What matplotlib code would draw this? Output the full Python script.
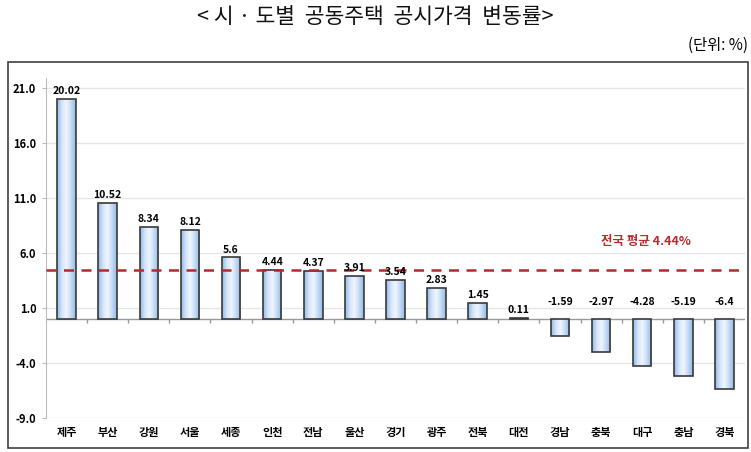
import numpy as np
import matplotlib.pyplot as plt
from matplotlib.patches import Rectangle
from matplotlib.colors import LinearSegmentedColormap

plt.rcParams['font.family'] = ['Noto Sans CJK KR', 'DejaVu Sans']

regions = ['제주', '부산', '강원', '서울', '세종', '인천', '전남', '울산', '경기',
           '광주', '전북', '대전', '경남', '충북', '대구', '충남', '경북']
changes = [20.02, 10.52, 8.34, 8.12, 5.6, 4.44, 4.37, 3.91, 3.54,
           2.83, 1.45, 0.11, -1.59, -2.97, -4.28, -5.19, -6.4]
labels = ['20.02', '10.52', '8.34', '8.12', '5.6', '4.44', '4.37', '3.91', '3.54',
          '2.83', '1.45', '0.11', '-1.59', '-2.97', '-4.28', '-5.19', '-6.4']
national_avg = 4.44
yticks = [21.0, 16.0, 11.0, 6.0, 1.0, -4.0, -9.0]

px = 1 / 100
fig = plt.figure(figsize=(751 * px, 452 * px), dpi=100)
ax = fig.add_axes([46 / 751, 34 / 452, 699 / 751, 340 / 452])

# outer frame of the chart
fig.patches.append(Rectangle((8 / 751, 4 / 452), 740 / 751, 386 / 452,
                             transform=fig.transFigure, fill=False,
                             edgecolor='#404040', lw=1.2))

x = np.arange(len(regions))
bars = ax.bar(x, changes, width=0.45, color='none', edgecolor='#3a3a3a', lw=1.2, zorder=3)

# gradient fill for each bar
cmap = LinearSegmentedColormap.from_list('bl', ['#94b9e6', '#d2e4f8', '#f0f6fd', '#c2daf4', '#94b9e6'])
grad = np.tile(np.linspace(0, 1, 64), (64, 1))
for b in bars:
    x0, y0 = b.get_x(), b.get_y()
    w, h = b.get_width(), b.get_height()
    im = ax.imshow(grad, cmap=cmap, aspect='auto', zorder=2,
                   extent=[x0, x0 + w, min(y0, y0 + h), max(y0, y0 + h)])
    im.set_clip_path(b)

# value labels
for i, v in enumerate(changes):
    if v >= 0:
        ax.annotate(labels[i], (i, v), xytext=(0, 2), textcoords='offset points',
                    ha='center', va='bottom', fontsize=7.5, fontweight='bold', zorder=5)
    else:
        ax.text(i, 1.5, labels[i], ha='center', va='center', fontsize=7.5,
                fontweight='bold', zorder=5)

ax.axhline(national_avg, color='#b22a2a', ls=(0, (4, 3)), lw=1.8, zorder=4)
ax.text(14.1, 7.0, '전국 평균 4.44%', color='#c0282d', fontsize=9,
        fontweight='bold', ha='center', va='center')

# zero line with small category ticks
ax.axhline(0, color='#999999', lw=1, zorder=1)
ax.vlines(x[:-1] + 0.5, -0.35, 0, color='#999999', lw=1, zorder=1)

ax.set_xlim(-0.5, len(regions) - 0.5)
ax.set_ylim(-9.0, 21.9)
ax.set_yticks(yticks)
ax.set_yticklabels([f'{t:.1f}' for t in yticks], fontweight='bold', fontsize=8)
ax.set_xticks(x)
ax.set_xticklabels(regions, fontweight='bold', fontsize=8)
ax.tick_params(axis='x', length=0, pad=6)
ax.tick_params(axis='y', length=3, color='#bbbbbb', pad=4)
ax.grid(axis='y', color='#e6e6e6', lw=1, zorder=0)
for s in ['top', 'right', 'bottom']:
    ax.spines[s].set_visible(False)
ax.spines['left'].set_color('#bbbbbb')

fig.text(0.5, 1 - 17 / 452, '< 시 · 도별  공동주택  공시가격  변동률>', ha='center',
         va='center', fontsize=15.5, color='#111111')
fig.text(748 / 751, 1 - 45 / 452, '(단위: %)', ha='right', va='center', fontsize=11)

fig.savefig('out.png', dpi=100)
